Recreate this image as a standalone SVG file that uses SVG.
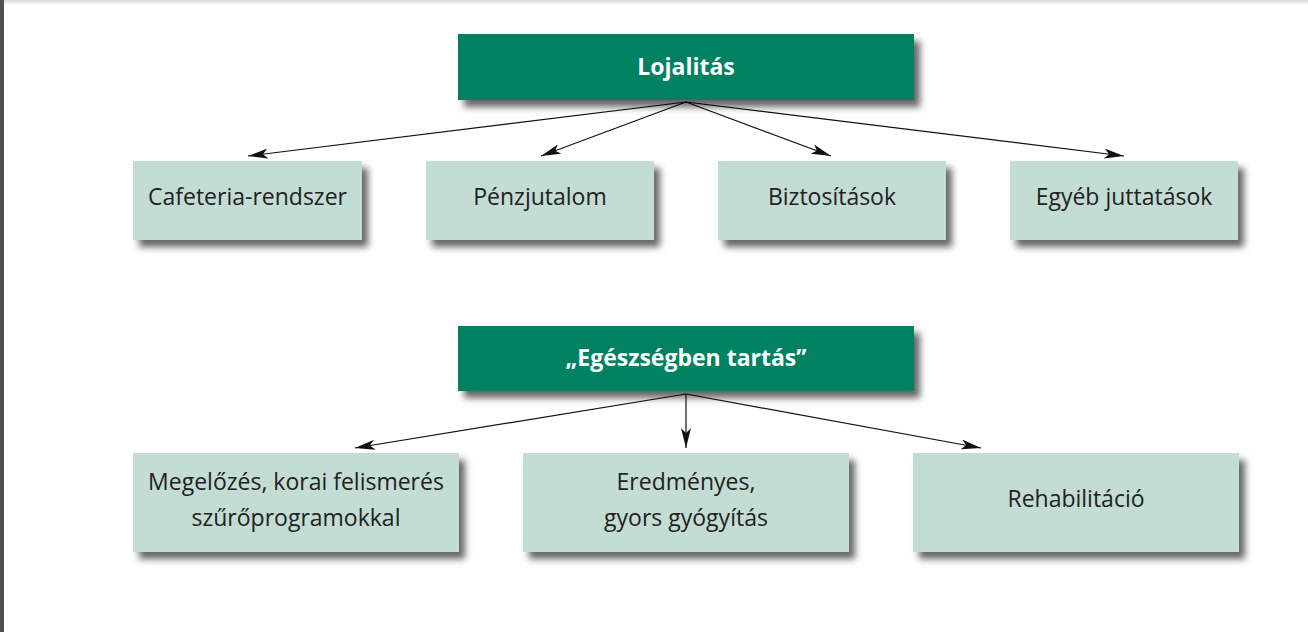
<svg xmlns="http://www.w3.org/2000/svg" width="1308" height="632" viewBox="0 0 1308 632">
<defs>
<linearGradient id="topg" x1="0" y1="0" x2="0" y2="1"><stop offset="0" stop-color="#d8d8d8"/><stop offset="1" stop-color="#ffffff"/></linearGradient>
<filter id="sh" x="-10%" y="-20%" width="125%" height="160%"><feDropShadow dx="6" dy="7" stdDeviation="3.5" flood-color="#000" flood-opacity="0.6"/></filter>
<marker id="ah" viewBox="0 0 20 10" refX="20" refY="5" markerWidth="20" markerHeight="10" markerUnits="userSpaceOnUse" orient="auto"><path d="M0,0 L20,5 L0,10 L5,5 Z" fill="#111"/></marker>
<style>
.hd{fill:#008262;filter:url(#sh)}
.bx{fill:#c3dcd4;filter:url(#sh)}
.ht{font-family:"Open Sans","Liberation Sans",sans-serif;font-weight:bold;font-size:23px;fill:#fff;text-anchor:middle}
.bt{font-family:"Open Sans","Liberation Sans",sans-serif;font-size:23px;fill:#222;text-anchor:middle}
.cn{stroke:#111;stroke-width:1.2;fill:none;marker-end:url(#ah)}
</style>
</defs>
<rect x="0" y="0" width="1308" height="632" fill="#fff"/>
<rect x="0" y="0" width="1308" height="5" fill="url(#topg)"/>
<rect x="0" y="0" width="4" height="632" fill="#505050"/>
<g id="connectors">
<line class="cn" x1="686" y1="102" x2="248" y2="156"/>
<line class="cn" x1="686" y1="102" x2="541" y2="156"/>
<line class="cn" x1="686" y1="102" x2="831" y2="156"/>
<line class="cn" x1="686" y1="102" x2="1124" y2="156"/>
<line class="cn" x1="686" y1="394" x2="355" y2="448"/>
<line class="cn" x1="686" y1="394" x2="686" y2="448"/>
<line class="cn" x1="686" y1="394" x2="981" y2="448"/>
</g>
<g id="lojalitas"><rect class="hd" x="458" y="34" width="456" height="66"/><text class="ht" x="686" y="75">Lojalitás</text></g>
<g id="cafeteria"><rect class="bx" x="133" y="161" width="229" height="79"/><text class="bt" x="247.5" y="205">Cafeteria-rendszer</text></g>
<g id="penzjutalom"><rect class="bx" x="426" y="161" width="228" height="79"/><text class="bt" x="540" y="205">Pénzjutalom</text></g>
<g id="biztositasok"><rect class="bx" x="718" y="161" width="228" height="79"/><text class="bt" x="832" y="205">Biztosítások</text></g>
<g id="egyeb"><rect class="bx" x="1010" y="161" width="228" height="79"/><text class="bt" x="1124" y="205">Egyéb juttatások</text></g>
<g id="egeszseg"><rect class="hd" x="458" y="326" width="456" height="65"/><text class="ht" x="686" y="366">„Egészségben tartás”</text></g>
<g id="megelozes"><rect class="bx" x="133" y="453" width="326" height="99"/><text class="bt" x="296" y="490">Megelőzés, korai felismerés</text><text class="bt" x="296" y="526">szűrőprogramokkal</text></g>
<g id="eredmenyes"><rect class="bx" x="523" y="453" width="326" height="99"/><text class="bt" x="686" y="490">Eredményes,</text><text class="bt" x="686" y="526">gyors gyógyítás</text></g>
<g id="rehab"><rect class="bx" x="913" y="453" width="326" height="99"/><text class="bt" x="1076" y="507">Rehabilitáció</text></g>
</svg>
